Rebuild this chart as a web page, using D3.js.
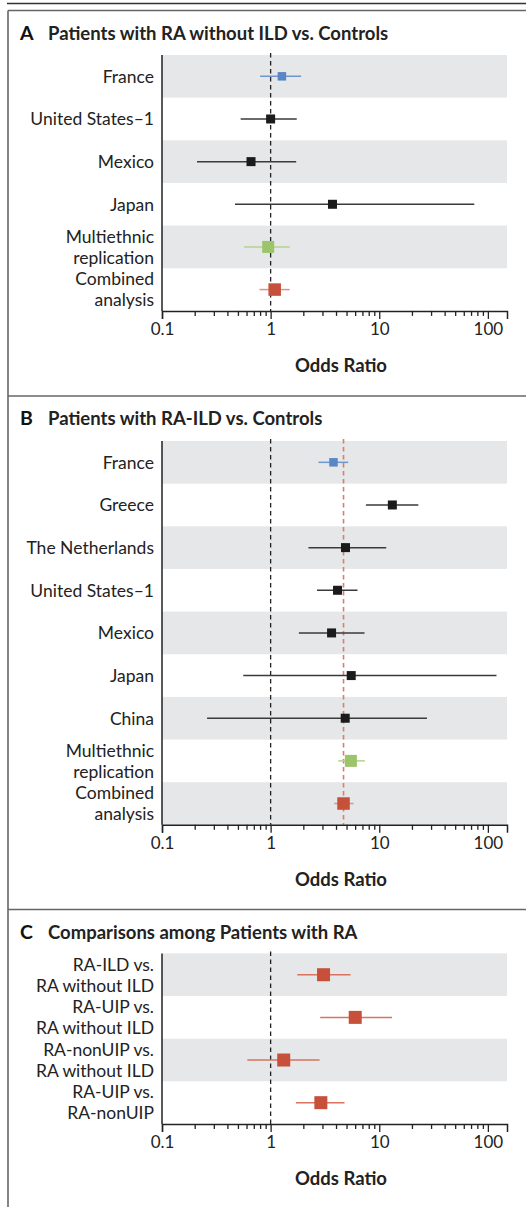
<!DOCTYPE html>
<html lang="en">
<head>
  <meta charset="UTF-8">
  <title>Odds ratio forest plots</title>
  <style>
    body { margin: 0; background: #fff; }
    svg { display: block; font-family: Lato, "Open Sans", sans-serif; }
    .row-label { font-size: 17.5px; fill: #222; }
    .title { font-size: 18.5px; font-weight: bold; fill: #222; }
    .letter { font-size: 19.5px; font-weight: bold; fill: #111; }
    .tick text { font-size: 17px; fill: #222; font-family: Lato, "Open Sans", sans-serif; }
    .axis-title { font-size: 18.5px; font-weight: bold; fill: #222; }
  </style>
</head>
<body>
  <script src="https://cdn.jsdelivr.net/npm/d3@7"></script>
  <script>
    // panel A: RA without ILD vs controls
    var aLabels = ["France", "United States\u20131", "Mexico", "Japan", "Multiethnic\nreplication", "Combined\nanalysis"];
    var aOR = [1.27, 1.0, 0.66, 3.71, 0.95, 1.09];
    var aLow = [0.80, 0.53, 0.21, 0.47, 0.57, 0.79];
    var aHigh = [1.91, 1.74, 1.72, 75, 1.50, 1.50];
    var aType = ["fr", "st", "st", "st", "me", "co"];

    // panel B: RA-ILD vs controls
    var bLabels = ["France", "Greece", "The Netherlands", "United States\u20131", "Mexico", "Japan", "China", "Multiethnic\nreplication", "Combined\nanalysis"];
    var bOR = [3.79, 13.2, 4.89, 4.13, 3.64, 5.52, 4.86, 5.48, 4.69];
    var bLow = [2.76, 7.54, 2.23, 2.67, 1.82, 0.56, 0.26, 4.19, 3.85];
    var bHigh = [5.18, 22.9, 11.6, 6.31, 7.32, 120, 27.5, 7.38, 5.80];
    var bType = ["fr", "st", "st", "st", "st", "st", "st", "me", "co"];

    // panel C: comparisons among RA patients
    var cLabels = ["RA-ILD vs.\nRA without ILD", "RA-UIP vs.\nRA without ILD", "RA-nonUIP vs.\nRA without ILD", "RA-UIP vs.\nRA-nonUIP"];
    var cOR = [3.07, 6.01, 1.32, 2.90];
    var cLow = [1.76, 2.86, 0.61, 1.71];
    var cHigh = [5.44, 13.1, 2.82, 4.79];
    var cType = ["cc", "cc", "cc", "cc"];

    var majorTicks = [0.1, 1, 10, 100];
    var minorTicks = [0.2, 0.3, 0.4, 0.5, 0.6, 0.7, 0.8, 0.9, 2, 3, 4, 5, 6, 7, 8, 9, 20, 30, 40, 50, 60, 70, 80, 90];

    var W = 526, H = 1207;
    var rowH = 42.65;

    // marker styles by type
    var styles = {
      fr: { fill: "#5a86c5", line: "#6f97cf", size: 8.5 },
      st: { fill: "#1b1b1b", line: "#3a3a3a", size: 9 },
      me: { fill: "#9cc46b", line: "#b3d38c", size: 12 },
      co: { fill: "#c6503a", line: "#e0917f", size: 12.5 },
      cc: { fill: "#c6503a", line: "#d9735f", size: 13 }
    };

    var svg = d3.select("body").append("svg")
      .attr("width", W)
      .attr("height", H);

    var x = d3.scaleLog().domain([0.1, 150]).range([162, 507]);

    // frame lines
    svg.append("line").attr("x1", 7).attr("x2", W).attr("y1", 3.5).attr("y2", 3.5)
      .attr("stroke", "#333").attr("stroke-width", 1.6);
    svg.append("line").attr("x1", 8).attr("x2", 8).attr("y1", 10.5).attr("y2", H)
      .attr("stroke", "#666").attr("stroke-width", 1.6);
    [10.5, 396, 909.5].forEach(function (y) {
      svg.append("line").attr("x1", 8).attr("x2", W).attr("y1", y).attr("y2", y)
        .attr("stroke", "#666").attr("stroke-width", 1.6);
    });

    function drawPanel(opt) {
      var g = svg.append("g");
      var n = opt.labels.length;
      var top = opt.top;
      var bottom = top + n * rowH;
      var rows = d3.range(n);

      g.append("text").attr("class", "letter").attr("x", 20).attr("y", opt.titleY + 6.5).text(opt.letter);
      g.append("text").attr("class", "title").attr("x", 48).attr("y", opt.titleY + 6.5).text(opt.title);

      // shaded bands
      g.selectAll("rect.band").data(rows.filter(function (i) { return i % 2 === 0; }))
        .enter().append("rect")
        .attr("class", "band")
        .attr("x", x.range()[0]).attr("width", x.range()[1] - x.range()[0])
        .attr("y", function (i) { return top + i * rowH; })
        .attr("height", rowH)
        .attr("fill", "#e6e7e8");

      // row labels
      rows.forEach(function (i) {
        var lines = opt.labels[i].split("\n");
        var cy = top + (i + 0.5) * rowH;
        lines.forEach(function (s, k) {
          var off = lines.length === 1 ? 0 : (k === 0 ? -10.5 : 10.5);
          g.append("text").attr("class", "row-label")
            .attr("x", 154).attr("y", cy + off)
            .attr("dy", "0.36em")
            .attr("text-anchor", "end")
            .text(s);
        });
      });

      // reference line at OR = 1
      g.append("line")
        .attr("x1", x(1)).attr("x2", x(1))
        .attr("y1", top - 2).attr("y2", bottom)
        .attr("stroke", "#222").attr("stroke-width", 1.3)
        .attr("stroke-dasharray", "4.5,3.5");

      if (opt.refLine) {
        g.append("line")
          .attr("x1", x(opt.refLine)).attr("x2", x(opt.refLine))
          .attr("y1", top - 2).attr("y2", bottom)
          .attr("stroke", "#dc7d68").attr("stroke-width", 1.6)
          .attr("stroke-dasharray", "4.5,3.5");
      }

      // CI lines
      g.selectAll("line.ci").data(rows).enter().append("line")
        .attr("class", "ci")
        .attr("x1", function (i) { return x(opt.low[i]); })
        .attr("x2", function (i) { return x(opt.high[i]); })
        .attr("y1", function (i) { return top + (i + 0.5) * rowH; })
        .attr("y2", function (i) { return top + (i + 0.5) * rowH; })
        .attr("stroke", function (i) { return styles[opt.type[i]].line; })
        .attr("stroke-width", 1.5);

      // point estimates
      g.selectAll("rect.pt").data(rows).enter().append("rect")
        .attr("class", "pt")
        .attr("x", function (i) { return x(opt.or[i]) - styles[opt.type[i]].size / 2; })
        .attr("y", function (i) { return top + (i + 0.5) * rowH - styles[opt.type[i]].size / 2; })
        .attr("width", function (i) { return styles[opt.type[i]].size; })
        .attr("height", function (i) { return styles[opt.type[i]].size; })
        .attr("fill", function (i) { return styles[opt.type[i]].fill; });

      // left axis line
      g.append("line")
        .attr("x1", x.range()[0]).attr("x2", x.range()[0])
        .attr("y1", top).attr("y2", bottom)
        .attr("stroke", "#222").attr("stroke-width", 1.5);

      // bottom axis
      var minor = g.append("g").attr("transform", "translate(0," + bottom + ")")
        .call(d3.axisBottom(x).tickValues(minorTicks).tickFormat("").tickSize(5).tickSizeOuter(0));
      minor.select(".domain").remove();
      minor.selectAll(".tick line").attr("stroke", "#222").attr("stroke-width", 1.3);

      var major = g.append("g").attr("transform", "translate(0," + bottom + ")")
        .call(d3.axisBottom(x).tickValues(majorTicks).tickFormat(d3.format("")).tickSize(8).tickSizeOuter(8).tickPadding(4));
      major.select(".domain").attr("stroke", "#222").attr("stroke-width", 1.5);
      major.selectAll(".tick line").attr("stroke", "#222").attr("stroke-width", 1.3);
      major.selectAll(".tick text").attr("fill", "#222");

      g.append("text").attr("class", "axis-title")
        .attr("x", 341).attr("y", bottom + 61)
        .attr("text-anchor", "middle")
        .text("Odds Ratio");
    }

    drawPanel({ letter: "A", title: "Patients with RA without ILD vs. Controls", titleY: 33, top: 55,
      labels: aLabels, or: aOR, low: aLow, high: aHigh, type: aType });
    drawPanel({ letter: "B", title: "Patients with RA-ILD vs. Controls", titleY: 418, top: 441,
      labels: bLabels, or: bOR, low: bLow, high: bHigh, type: bType, refLine: bOR[8] });
    drawPanel({ letter: "C", title: "Comparisons among Patients with RA", titleY: 932, top: 953.4,
      labels: cLabels, or: cOR, low: cLow, high: cHigh, type: cType });
  </script>
</body>
</html>
